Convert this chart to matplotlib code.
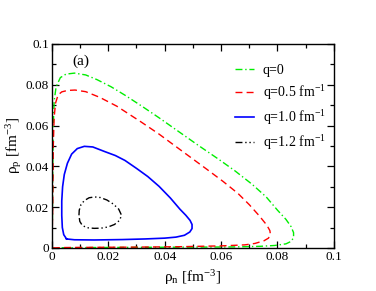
import numpy as np
import matplotlib
matplotlib.use('Agg')
import matplotlib.pyplot as plt
from matplotlib.ticker import FixedLocator, MultipleLocator

plt.rcParams['font.family'] = ['Liberation Serif', 'DejaVu Serif']
plt.rcParams['mathtext.fontset'] = 'custom'
plt.rcParams['mathtext.rm'] = 'Liberation Serif'
plt.rcParams['mathtext.it'] = 'Liberation Serif:italic'

# spinodal contours (rho_n, rho_p) in fm^-3
green_x = [0, 0.0002, 0.0003, 0.0005, 0.0008, 0.0015, 0.003, 0.005, 0.008, 0.012, 0.016,
           0.021, 0.026, 0.032, 0.038, 0.045, 0.052, 0.059, 0.065, 0.071, 0.076, 0.080,
           0.0830, 0.0848, 0.0857, 0.0857, 0.0848, 0.0830, 0.079, 0.074, 0.065, 0.05,
           0.03, 0.015, 0.005, 0]
green_y = [0, 0.015, 0.04, 0.06, 0.072, 0.079, 0.0835, 0.0852, 0.0857, 0.0848, 0.0825,
           0.0790, 0.0748, 0.0694, 0.0638, 0.0570, 0.0502, 0.0436, 0.0377, 0.0312, 0.0250,
           0.0185, 0.0140, 0.0105, 0.0075, 0.0050, 0.0032, 0.0020, 0.0012, 0.0008, 0.0005,
           0.0004, 0.0003, 0.0002, 0.0001, 0]

red_x = [0, 0.0003, 0.0005, 0.0008, 0.0013, 0.0022, 0.0035, 0.0055, 0.0082, 0.012, 0.017,
         0.023, 0.0318, 0.038, 0.043, 0.049, 0.055, 0.0607, 0.066, 0.070, 0.0735, 0.0762,
         0.0773, 0.0775, 0.0768, 0.0752, 0.072, 0.0684, 0.060, 0.045, 0.03, 0.015, 0.005, 0]
red_y = [0, 0.02, 0.05, 0.064, 0.071, 0.0750, 0.0765, 0.0772, 0.0774, 0.0766, 0.0738,
         0.0695, 0.0616, 0.0558, 0.0507, 0.0446, 0.0385, 0.0326, 0.0267, 0.0212, 0.0158,
         0.0112, 0.0085, 0.0065, 0.0048, 0.0035, 0.0022, 0.0015, 0.0010, 0.0006, 0.0004,
         0.0003, 0.0002, 0]

blue_x = [0.0052, 0.0042, 0.0037, 0.0035, 0.0035, 0.0038, 0.0044, 0.0055, 0.0070, 0.0090,
          0.0115, 0.0145, 0.0188, 0.0225, 0.0259, 0.0300, 0.0340, 0.0380, 0.0420, 0.0454,
          0.0475, 0.0490, 0.0497, 0.0497, 0.0489, 0.0470, 0.0440, 0.0400, 0.0330, 0.0250,
          0.0150, 0.0080, 0.0052]
blue_y = [0.0044, 0.0065, 0.0100, 0.0160, 0.0230, 0.0300, 0.0360, 0.0415, 0.0460, 0.0487,
          0.0498, 0.0495, 0.0472, 0.0453, 0.0429, 0.0390, 0.0350, 0.0302, 0.0245, 0.0190,
          0.0160, 0.0135, 0.0115, 0.0095, 0.0078, 0.0062, 0.0053, 0.0048, 0.0044, 0.0041,
          0.0039, 0.0040, 0.0044]

black_x = [0.0096, 0.0097, 0.0103, 0.0115, 0.0132, 0.0152, 0.0172, 0.0195, 0.0218, 0.0237,
           0.0247, 0.0240, 0.0222, 0.0200, 0.0175, 0.0150, 0.0125, 0.0108, 0.0099, 0.0096]
black_y = [0.0160, 0.0185, 0.0212, 0.0232, 0.0246, 0.0250, 0.0247, 0.0235, 0.0215, 0.0190,
           0.0160, 0.0135, 0.0115, 0.0103, 0.0097, 0.0096, 0.0099, 0.0110, 0.0130, 0.0160]

labels = ['q=0', 'q=0.5 fm$^{-1}$', 'q=1.0 fm$^{-1}$', 'q=1.2 fm$^{-1}$']
tick_vals = [0, 0.02, 0.04, 0.06, 0.08, 0.1]
tick_text = ['0', '0.02', '0.04', '0.06', '0.08', '0.1']

fig = plt.figure(figsize=(3.76, 2.91), dpi=100)
ax = fig.add_axes([0.138, 0.148, 0.750, 0.701])

ax.plot(green_x, green_y, color='#00ee00', lw=1.0, dashes=(5, 2, 1, 2), label=labels[0])
ax.plot(red_x, red_y, color='red', lw=1.0, dashes=(5, 3), label=labels[1])
ax.plot(blue_x, blue_y, color='blue', lw=1.2, label=labels[2])
ax.plot(black_x, black_y, color='black', lw=1.0, dashes=(5, 2, 1, 2, 1, 2), label=labels[3])

ax.set_xlim(0, 0.1)
ax.set_ylim(0, 0.1)
for axis in (ax.xaxis, ax.yaxis):
    axis.set_major_locator(FixedLocator(tick_vals))
    axis.set_minor_locator(MultipleLocator(0.01))
ax.set_xticklabels(tick_text)
ax.set_yticklabels(tick_text)
ax.tick_params(which='both', direction='in', top=True, right=True, labelsize=9.5,
               width=0.9, pad=2)
ax.tick_params(which='major', length=5)
ax.tick_params(which='minor', length=3)
for s in ax.spines.values():
    s.set_linewidth(1.0)

ax.set_xlabel('ρ$_\\mathrm{n}$ [fm$^{-3}$]', fontsize=11, labelpad=4)
ax.set_ylabel('ρ$_\\mathrm{p}$ [fm$^{-3}$]', fontsize=11, labelpad=1)
ax.text(0.0072, 0.0917, '(a)', fontsize=11, va='center', ha='left')

ax.legend(loc='upper left', bbox_to_anchor=(0.615, 0.95), frameon=False, fontsize=10,
          handlelength=1.4, handletextpad=0.6, labelspacing=0.45, borderaxespad=0.3)

fig.savefig('out.png', dpi=100)
